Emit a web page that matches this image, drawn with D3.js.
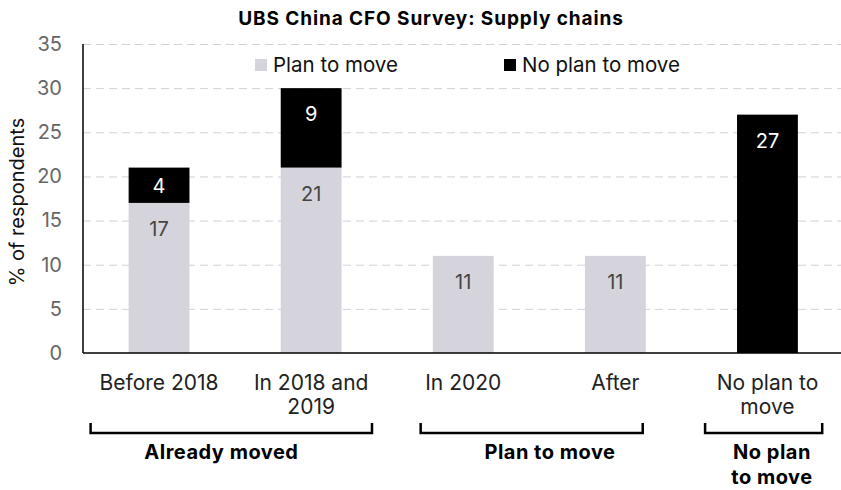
<!DOCTYPE html>
<html lang="en">
<head>
<meta charset="utf-8">
<title>UBS China CFO Survey: Supply chains</title>
<script src="https://d3js.org/d3.v7.min.js"></script>
<style>
  body { margin: 0; background: #fff; }
  text { font-family: "Inter", "Liberation Sans", sans-serif; }
</style>
</head>
<body>
<div id="chart"></div>
<script>
// Data
var categories = [["Before 2018"], ["In 2018 and", "2019"], ["In 2020"], ["After"], ["No plan to", "move"]];
var planToMove = [17, 21, 11, 11, 0];
var noPlanToMove = [4, 9, 0, 0, 27];
var seriesNames = ["Plan to move", "No plan to move"];
var yTicks = [0, 5, 10, 15, 20, 25, 30, 35];
// groups: span in category-index units (brackets are hand drawn in the original)
var groupNames = [["Already moved"], ["Plan to move"], ["No plan", "to move"]];
var groupFrom = [-0.45, 1.72, 3.59];
var groupTo = [1.40, 3.18, 4.36];
var groupMid = [0.41, 2.57, 4.03];

var W = 841, H = 490;
var margin = {top: 44, right: 0, bottom: 137, left: 83};
var colors = ["#d5d4dc", "#000000"];

var svg = d3.select("#chart").append("svg")
  .attr("width", W).attr("height", H);

var x = d3.scaleBand()
  .domain(d3.range(categories.length))
  .range([margin.left, 843.5])
  .paddingInner(0.6).paddingOuter(0.3);

var y = d3.scaleLinear()
  .domain([0, 35])
  .range([H - margin.bottom, margin.top]);

// index -> pixel, for brackets
var xi = d3.scaleLinear()
  .domain([0, 1])
  .range([x(0) + x.bandwidth() / 2, x(1) + x.bandwidth() / 2]);

// title
svg.append("text")
  .attr("x", 431).attr("y", 25)
  .attr("text-anchor", "middle")
  .attr("font-size", 19).attr("font-weight", "bold")
  .attr("letter-spacing", 0.9)
  .attr("fill", "#000")
  .text("UBS China CFO Survey: Supply chains");

// gridlines
svg.append("g").selectAll("line")
  .data(yTicks.filter(function(d) { return d > 0; }))
  .enter().append("line")
  .attr("x1", margin.left).attr("x2", W)
  .attr("y1", function(d) { return y(d) + 0.5; })
  .attr("y2", function(d) { return y(d) + 0.5; })
  .attr("stroke", "#d0d0d8")
  .attr("stroke-width", 1)
  .attr("stroke-dasharray", "8,5");

// y axis
var yAxis = svg.append("g")
  .attr("transform", "translate(" + margin.left + ",0)")
  .call(d3.axisLeft(y).tickValues(yTicks).tickSize(0).tickPadding(21));
yAxis.select(".domain").remove();
yAxis.selectAll("text")
  .attr("font-size", 20).attr("fill", "#666")
  .style("font-family", "Inter, sans-serif");

// stacked bars
var stack = d3.stack().keys([0, 1])
  .value(function(d, k) { return k == 0 ? planToMove[d] : noPlanToMove[d]; });
var layers = stack(d3.range(categories.length));

layers.forEach(function(layer, k) {
  var g = svg.append("g");
  g.selectAll("rect")
    .data(layer.filter(function(d) { return d[1] > d[0]; }))
    .enter().append("rect")
    .attr("x", function(d) { return x(d.data); })
    .attr("width", x.bandwidth())
    .attr("y", function(d) { return y(d[1]); })
    .attr("height", function(d) { return y(d[0]) - y(d[1]); })
    .attr("fill", colors[k]);
  g.selectAll("text")
    .data(layer.filter(function(d) { return d[1] > d[0]; }))
    .enter().append("text")
    .attr("x", function(d) { return x(d.data) + x.bandwidth() / 2; })
    .attr("y", function(d) {
      var top = y(d[1]), bot = y(d[0]);
      var c = (bot - top) < 50 ? (top + bot) / 2 + 1 : top + 26;
      return c + 7;
    })
    .attr("text-anchor", "middle")
    .attr("font-size", 20)
    .attr("fill", k == 0 ? "#444" : "#fff")
    .text(function(d) { return d[1] - d[0]; });
});

// axis lines
svg.append("line")
  .attr("x1", margin.left).attr("x2", W)
  .attr("y1", y(0)).attr("y2", y(0))
  .attr("stroke", "#000").attr("stroke-width", 1.5);
svg.append("line")
  .attr("x1", margin.left).attr("x2", margin.left)
  .attr("y1", y(0)).attr("y2", y(35))
  .attr("stroke", "#000").attr("stroke-width", 1.5);

// category labels
svg.append("g").selectAll("text")
  .data(categories).enter().append("text")
  .attr("x", function(d, i) { return x(i) + x.bandwidth() / 2; })
  .attr("y", 390)
  .attr("text-anchor", "middle")
  .attr("font-size", 21).attr("fill", "#222")
  .each(function(d) {
    var t = d3.select(this);
    d.forEach(function(line, j) {
      t.append("tspan")
        .attr("x", t.attr("x"))
        .attr("dy", j == 0 ? 0 : 24)
        .text(line);
    });
  });

// brackets
svg.append("g").selectAll("path")
  .data(groupFrom).enter().append("path")
  .attr("d", function(d, i) {
    var a = xi(groupFrom[i]), b = xi(groupTo[i]);
    return "M" + a + ",423 V433 H" + b + " V423";
  })
  .attr("fill", "none")
  .attr("stroke", "#000")
  .attr("stroke-width", 2.5);

svg.append("g").selectAll("text")
  .data(groupNames).enter().append("text")
  .attr("x", function(d, i) { return xi(groupMid[i]); })
  .attr("y", 459)
  .attr("text-anchor", "middle")
  .attr("font-size", 20).attr("font-weight", "bold").attr("fill", "#000")
  .attr("letter-spacing", 0.5)
  .each(function(d) {
    var t = d3.select(this);
    d.forEach(function(line, j) {
      t.append("tspan")
        .attr("x", t.attr("x"))
        .attr("dy", j == 0 ? 0 : 25)
        .text(line);
    });
  });

// legend
var legX = [255, 504];
var leg = svg.append("g").selectAll("g")
  .data(seriesNames).enter().append("g")
  .attr("transform", function(d, i) { return "translate(" + legX[i] + ",59)"; });
leg.append("rect")
  .attr("width", 12).attr("height", 12)
  .attr("fill", function(d, i) { return colors[i]; });
leg.append("text")
  .attr("x", 18).attr("y", 13)
  .attr("font-size", 20.5).attr("fill", "#111")
  .text(function(d) { return d; });

// y axis title
svg.append("text")
  .attr("transform", "translate(24,202) rotate(-90)")
  .attr("text-anchor", "middle")
  .attr("font-size", 20).attr("fill", "#111")
  .text("% of respondents");
</script>
</body>
</html>
